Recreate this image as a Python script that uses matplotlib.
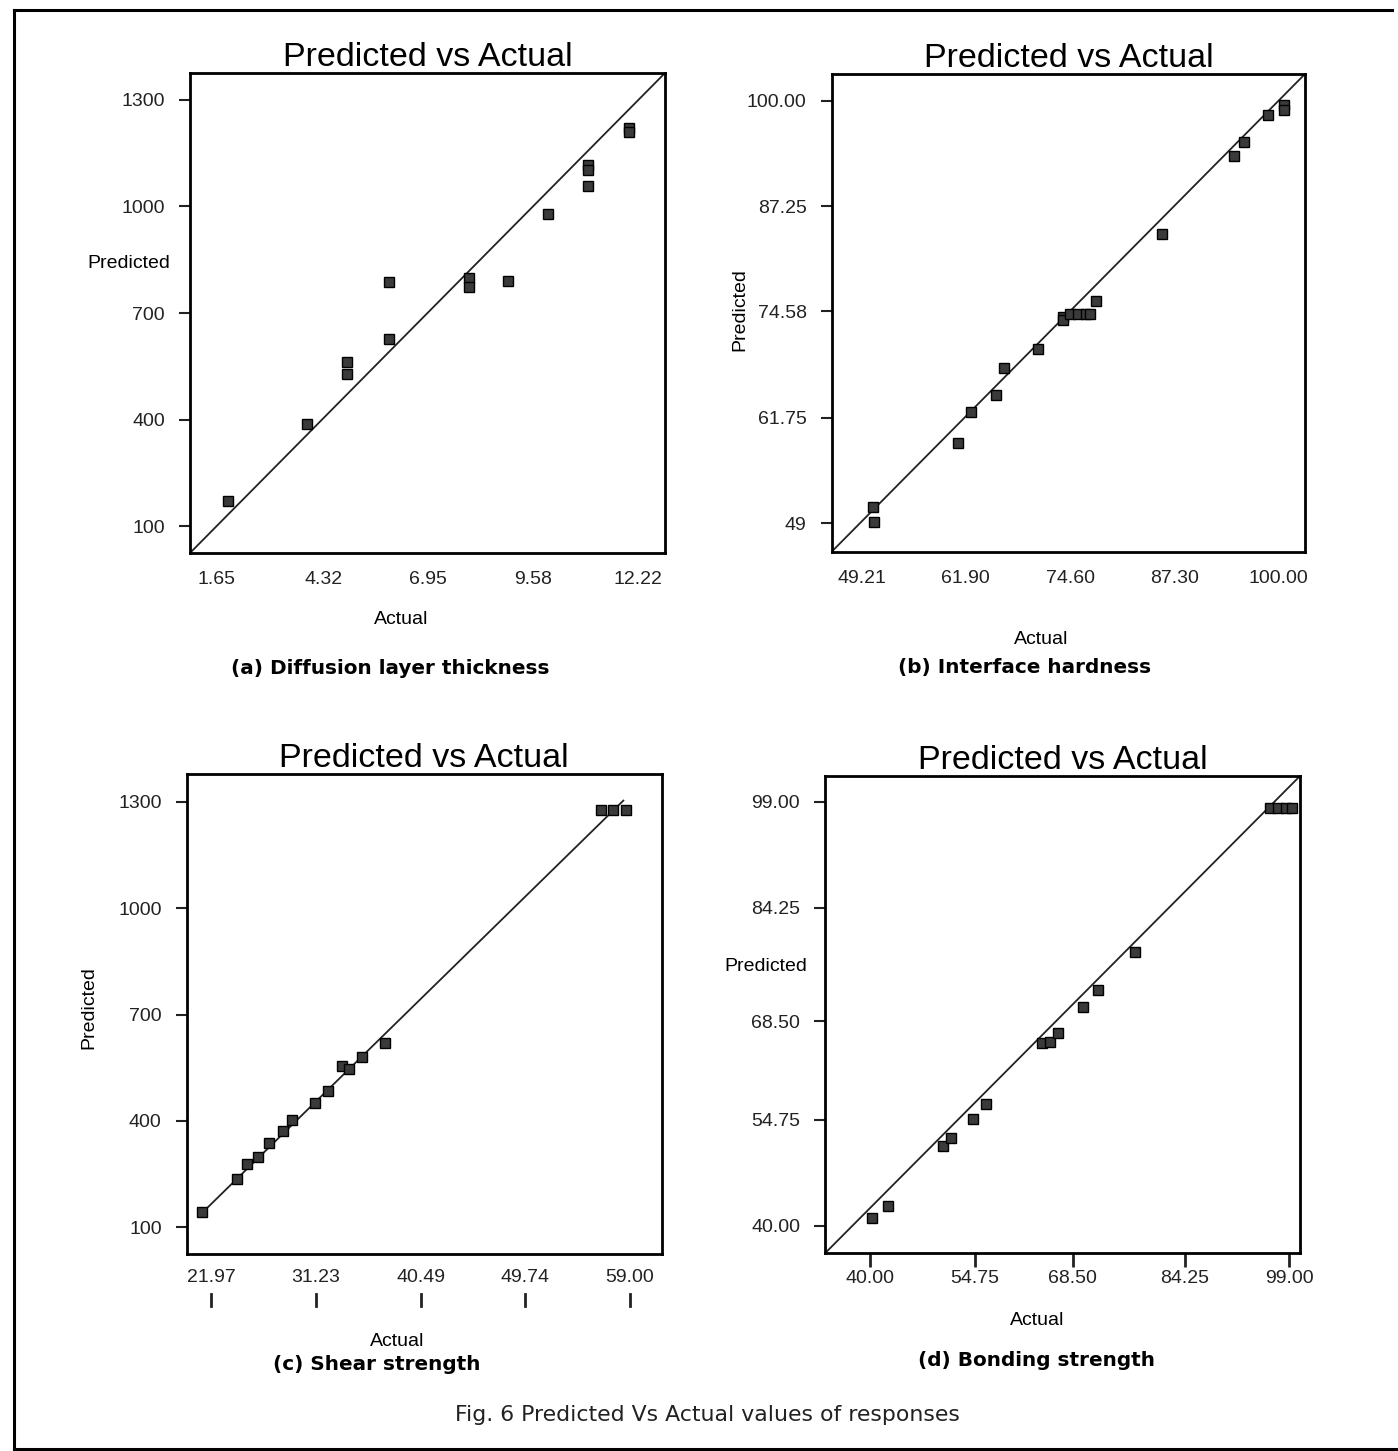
import matplotlib
matplotlib.use("Agg")
import matplotlib.pyplot as plt
from matplotlib.lines import Line2D

plt.rcParams['font.family'] = ['Liberation Sans', 'DejaVu Sans']

# (a) Diffusion layer thickness
a_actual = [1.94, 3.91, 4.92, 4.92, 5.98, 5.98, 7.97, 7.97, 8.96, 9.95, 10.96, 10.96, 10.95, 11.99, 11.99]
a_pred = [171, 386, 563, 528, 786, 626, 798, 774, 791, 979, 1117, 1103, 1059, 1221, 1210]
a_xticks = [1.65, 4.32, 6.95, 9.58, 12.22]
a_xlabels = ['1.65', '4.32', '6.95', '9.58', '12.22']
a_yticks = [100, 400, 700, 1000, 1300]
a_ylabels = ['100', '400', '700', '1000', '1300']

# (b) Interface hardness
b_actual = [50.64, 50.76, 60.91, 62.53, 65.54, 66.59, 70.73, 73.77, 73.77, 74.59, 75.56, 76.54, 77.02,
            77.75, 85.82, 94.59, 95.81, 98.66, 100.6, 100.6]
b_pred = [51.0, 49.2, 58.65, 62.47, 64.48, 67.71, 70.0, 73.93, 73.53, 74.22, 74.22, 74.22, 74.22,
          75.86, 83.91, 93.33, 95.05, 98.27, 99.48, 98.88]
b_xticks = [49.21, 61.90, 74.60, 87.30, 100.00]
b_xlabels = ['49.21', '61.90', '74.60', '87.30', '100.00']
b_yticks = [49, 61.75, 74.58, 87.25, 100.00]
b_ylabels = ['49', '61.75', '74.58', '87.25', '100.00']

# (c) Shear strength
c_actual = [21.20, 24.29, 25.18, 26.15, 27.12, 28.31, 29.16, 31.16, 32.28, 33.57, 34.17, 35.34, 37.35,
            56.44, 57.53, 58.62]
c_pred = [144, 236, 280, 299, 337, 371, 403, 451, 484, 556, 546, 579, 619, 1277, 1277, 1277]
c_fit_x = [21.73, 58.41]
c_fit_y = [158, 1303]
c_xticks = [21.97, 31.23, 40.49, 49.74, 59.00]
c_xlabels = ['21.97', '31.23', '40.49', '49.74', '59.00']
c_yticks = [100, 400, 700, 1000, 1300]
c_ylabels = ['100', '400', '700', '1000', '1300']

# (d) Bonding strength
d_actual = [40.32, 42.57, 50.23, 51.40, 54.45, 56.28, 64.16, 65.33, 66.41, 70.01, 72.12, 77.29,
            96.28, 97.41, 98.53, 99.38]
d_pred = [41.16, 42.82, 51.17, 52.2, 54.88, 56.97, 65.4, 65.63, 66.88, 70.41, 72.82, 78.14,
          98.17, 98.17, 98.17, 98.17]
d_xticks = [40.00, 54.75, 68.50, 84.25, 99.00]
d_xlabels = ['40.00', '54.75', '68.50', '84.25', '99.00']
d_yticks = [40.00, 54.75, 68.50, 84.25, 99.00]
d_ylabels = ['40.00', '54.75', '68.50', '84.25', '99.00']

captions = ['(a) Diffusion layer thickness', '(b) Interface hardness',
            '(c) Shear strength', '(d) Bonding strength']
fig_caption = 'Fig. 6 Predicted Vs Actual values of responses'

W, H = 1398, 1451
fig = plt.figure(figsize=(W / 100, H / 100), dpi=100)


def px_axes(left, top, right, bottom):
    return fig.add_axes([left / W, 1 - bottom / H, (right - left) / W, (bottom - top) / H])


def setup(ax, xt, xl, yt, yl):
    ax.set_xticks(xt)
    ax.set_xticklabels(xl)
    ax.set_yticks(yt)
    ax.set_yticklabels(yl)
    for s in ax.spines.values():
        s.set_linewidth(2.0)
    ax.tick_params(axis='y', direction='out', length=8, width=1.5, pad=10, labelsize=14, colors='#222222')
    ax.tick_params(axis='x', labelsize=14, colors='#222222')
    ax.set_title('Predicted vs Actual', fontsize=24.5, pad=2)


mk = dict(marker='s', ls='none', ms=6.5, mfc='#3a3a3a', mec='black', mew=1.0)

# panel a
ax = px_axes(190, 73, 665, 553)
ax.plot([0, 1], [0, 1], transform=ax.transAxes, color='#222222', lw=1.3)
ax.plot(a_actual, a_pred, **mk)
ax.set_xlim(0.98, 12.89)
ax.set_ylim(24, 1376)
setup(ax, a_xticks, a_xlabels, a_yticks, a_ylabels)
ax.tick_params(axis='x', length=0, pad=13)
ax.set_ylabel('Predicted', fontsize=14, rotation=0)
ax.yaxis.set_label_coords(-0.128, 0.585)
ax.set_xlabel('Actual', fontsize=14)
ax.xaxis.set_label_coords(0.444, -0.121)

# panel b
ax = px_axes(831.7, 74, 1305, 551.7)
ax.plot([40, 110], [40, 110], color='#222222', lw=1.3)
ax.plot(b_actual, b_pred, **mk)
ax.set_xlim(45.57, 103.2)
ax.set_ylim(45.57, 103.2)
setup(ax, b_xticks, b_xlabels, b_yticks, b_ylabels)
ax.tick_params(axis='x', length=0, pad=13)
ax.set_ylabel('Predicted', fontsize=14)
ax.yaxis.set_label_coords(-0.177, 0.506)
ax.set_xlabel('Actual', fontsize=14)
ax.xaxis.set_label_coords(0.442, -0.167)

# panel c
ax = px_axes(186.7, 774, 661.7, 1254)
ax.plot(c_fit_x, c_fit_y, color='#222222', lw=1.3)
ax.plot(c_actual, c_pred, **mk)
ax.set_xlim(19.82, 61.8)
ax.set_ylim(25, 1378)
setup(ax, c_xticks, c_xlabels, c_yticks, c_ylabels)
ax.tick_params(axis='x', length=0, pad=11)
for xv in c_xticks:
    ax.plot([xv, xv], [-0.083, -0.108], transform=ax.get_xaxis_transform(),
            color='#222222', lw=2, clip_on=False)
ax.set_ylabel('Predicted', fontsize=14)
ax.yaxis.set_label_coords(-0.189, 0.5125)
ax.set_xlabel('Actual', fontsize=14)
ax.xaxis.set_label_coords(0.443, -0.165)

# panel d
ax = px_axes(825, 776, 1300, 1253.3)
ax.plot([0, 1], [0, 1], transform=ax.transAxes, color='#222222', lw=1.3)
ax.plot(d_actual, d_pred, **mk)
ax.set_xlim(33.67, 100.5)
ax.set_ylim(36.2, 102.57)
setup(ax, d_xticks, d_xlabels, d_yticks, d_ylabels)
ax.tick_params(axis='x', direction='out', length=10, width=2, pad=2)
ax.set_ylabel('Predicted', fontsize=14, rotation=0)
ax.yaxis.set_label_coords(-0.124, 0.583)
ax.set_xlabel('Actual', fontsize=14)
ax.xaxis.set_label_coords(0.446, -0.124)

# captions
cap_pos = [(390, 668), (1025, 668), (377, 1364), (1036, 1360)]
for txt, (x, y) in zip(captions, cap_pos):
    fig.text(x / W, 1 - y / H, txt, ha='center', va='center', fontsize=14.4,
             fontweight='bold', family='DejaVu Sans')
fig.text(707 / W, 1 - 1415 / H, fig_caption, ha='center', va='center', fontsize=15.8,
         family='DejaVu Sans', color='#222222')

# outer frame (left, top, bottom)
fig.add_artist(Line2D([14 / W, 1392 / W], [1 - 10 / H, 1 - 10 / H], color='black', lw=2.2))
fig.add_artist(Line2D([14 / W, 14 / W], [1 - 10 / H, 1 - 1449 / H], color='black', lw=2.2))
fig.add_artist(Line2D([14 / W, 1398 / W], [1 - 1449 / H, 1 - 1449 / H], color='black', lw=2.2))

fig.savefig('out.png', dpi=100)
